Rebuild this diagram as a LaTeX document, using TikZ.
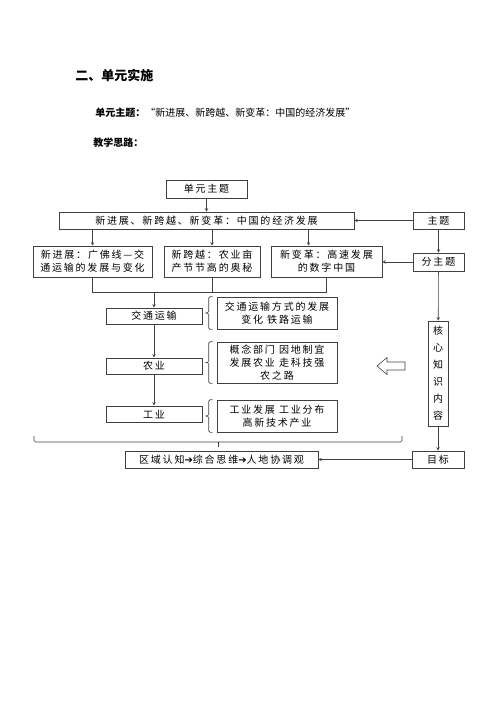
\documentclass[tikz,border=0pt]{standalone}
\usepackage{fontspec}
\setmainfont{Noto Sans CJK SC}
\newfontfamily\boxfont[LetterSpace=18]{Noto Sans CJK SC}
\newfontfamily\arrowfont{DejaVu Sans}
\usetikzlibrary{positioning}

% small bracket to the left of a content box
\newcommand{\sidebrace}[1]{%
  \draw[rounded corners=1.5pt] ([xshift=-4pt]#1.north west) -- ([xshift=-8pt]#1.north west) -- ([xshift=-8pt]#1.west) -- ([xshift=-11pt]#1.west);
  \draw[rounded corners=1.5pt] ([xshift=-11pt]#1.west) -- ([xshift=-8pt]#1.west) -- ([xshift=-8pt]#1.south west) -- ([xshift=-4pt]#1.south west);}

\begin{document}
\begin{tikzpicture}[x=1pt, y=-1pt, >=stealth, line width=0.6pt, draw=black!75,
  font={\boxfont\fontsize{10}{13}\selectfont},
  box/.style={draw=black!75, fill=white, inner sep=0pt, align=center},
  plain/.style={anchor=west, inner sep=0pt, font={\fontsize{10}{12}\selectfont}}]
  \useasboundingbox (0,0) rectangle (500,707);

  \node[plain, font={\fontsize{13}{15}\selectfont\bfseries}] (title) at (75,75) {二、单元实施};
  \node[plain] (theme) at (95,113) {\textbf{单元主题：}“新进展、新跨越、新变革：中国的经济发展”};
  \node[plain] (idea) at (93,143) {\textbf{教学思路：}};

  \node[box, minimum width=81, minimum height=18] (unit) at (206.5,189) {单元主题};
  \node[box, minimum width=295, minimum height=17] (main) at (206.5,220.5) {新进展、新跨越、新变革：中国的经济发展};
  \node[box, minimum width=51, minimum height=17] (topic) at (438.5,220.5) {主题};
  \node[box, minimum width=119, minimum height=31] (b1) at (92.5,261.5) {新进展：广佛线—交\\通运输的发展与变化};
  \node[box, minimum width=96, minimum height=31] (b2) at (212,261.5) {新跨越：农业亩\\产节节高的奥秘};
  \node[box, minimum width=111, minimum height=31] (b3) at (326.5,261.5) {新变革：高速发展\\的数字中国};
  \node[box, minimum width=51, minimum height=18] (sub) at (438.5,262) {分主题};

  \node[box, minimum width=96, minimum height=16] (trans) at (154,316) {交通运输};
  \node[box, minimum width=96, minimum height=16] (agri) at (154,366) {农业};
  \node[box, minimum width=96, minimum height=16] (ind) at (154,414) {工业};
  \node[box, minimum width=120, minimum height=32] (kA) at (277,313) {交通运输方式的发展\\变化 铁路运输};
  \node[box, minimum width=120, minimum height=41] (kB) at (277,362.5) {概念部门 因地制宜\\发展农业 走科技强\\农之路};
  \node[box, minimum width=120, minimum height=32] (kC) at (277,416) {工业发展 工业分布\\高新技术产业};

  \node[box, minimum width=20, minimum height=105, font={\boxfont\fontsize{10}{17}\selectfont}] (core) at (438,373.5) {核\\心\\知\\识\\内\\容};
  \node[box, minimum width=52, minimum height=17] (goal) at (438,459.5) {目标};
  \node[box, minimum width=193, minimum height=17] (skill) at (221.5,459.5) {区域认知{\arrowfont ➔}综合思维{\arrowfont ➔}人地协调观};

  % hollow arrow pointing to the content boxes
  \coordinate (hint) at (377,366);
  \draw[line join=miter] (hint) -- ++(10,-8.5) -- ++(0,4.5) -- ++(18,0) -- ++(0,8) -- ++(-18,0) -- ++(0,4.5) -- cycle;

  \draw[->] (unit) -- (main);
  \draw[->] (main.south -| b1.north) -- (b1.north);
  \draw[->] (main.south -| b2.north) -- (b2.north);
  \coordinate (b3in) at ([xshift=-18pt]b3.north);
  \draw[->] (main.south -| b3in) -- (b3in);
  \draw[->] (topic) -- (main);
  \draw[->] (topic) -- (sub);
  \draw[->] (sub.west) -- (sub.west -| b3.east);
  \draw[->] (sub) -- (core);
  \draw[->] (core) -- (goal);
  \draw[->] (goal) -- (skill);

  \coordinate (merge) at (154,292);
  \draw (b1.south) -- (b1.south |- merge) -- (b3.south |- merge) -- (b3.south);
  \draw (b2.south) -- (b2.south |- merge);
  \draw[->] (merge) -- (trans);
  \draw[->] (trans) -- (agri);
  \draw[->] (agri) -- (ind);

  \sidebrace{kA}
  \sidebrace{kB}
  \sidebrace{kC}

  \coordinate (brace) at (218,442);
  \draw[rounded corners=1.5pt] (34,436) -- (34,442) -- (402,442) -- (402,436);
  \draw (brace) -- ++(0,5);
\end{tikzpicture}
\end{document}
